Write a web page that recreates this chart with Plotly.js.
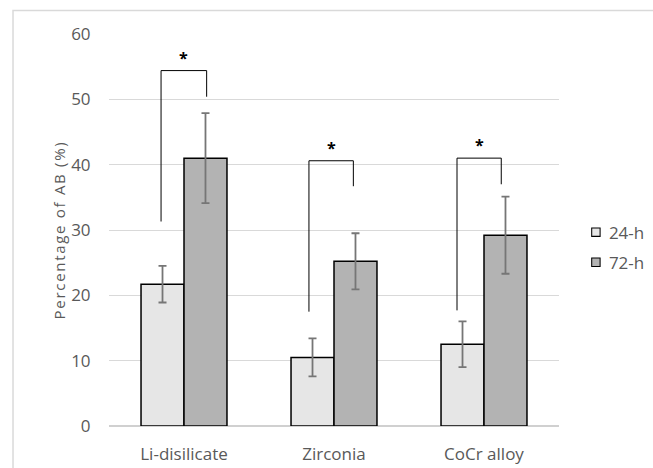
<!DOCTYPE html>
<html>
<head>
<meta charset="utf-8">
<script src="https://cdn.plot.ly/plotly-3.0.1.min.js"></script>
<style>
html,body{margin:0;padding:0;background:#fff;}
#chart{width:653px;height:468px;}
#chart .ytitle{letter-spacing:1.7px;}
#chart .legendpoints path{transform-origin:0 0;transform:translate(27px,0px) scale(0.7);}
</style>
</head>
<body>
<div id="chart"></div>
<script>
// Data
const categories = ["Li-disilicate", "Zirconia", "CoCr alloy"];
const seriesNames = ["24-h", "72-h"];
const values24h = [21.7, 10.5, 12.5];
const errors24h = [2.8, 2.9, 3.5];
const values72h = [41.0, 25.2, 29.2];
const errors72h = [6.9, 4.3, 5.9];
const yTicks = [0, 10, 20, 30, 40, 50, 60];

// Significance brackets (category index positions, y values)
const bracketLeftX = [-0.153, 0.833, 1.82];
const bracketRightX = [0.151, 1.129, 2.115];
const bracketLeftBottom = [31.3, 17.5, 17.7];
const bracketTop = [54.4, 40.6, 41.0];
const bracketRightBottom = [50.4, 36.7, 37.0];
const bracketLabel = ["*", "*", "*"];

const textColor = "#595959";
const fontFamily = "'Open Sans', sans-serif";

const traces = [
  {
    type: "bar", name: seriesNames[0], x: categories, y: values24h,
    marker: {color: "#e6e6e6", line: {color: "#000000", width: 1.5}},
    error_y: {type: "data", array: errors24h, visible: true, color: "#767676", thickness: 1.8, width: 4},
    legendgroup: "a"
  },
  {
    type: "bar", name: seriesNames[1], x: categories, y: values72h,
    marker: {color: "#b3b3b3", line: {color: "#000000", width: 1.5}},
    error_y: {type: "data", array: errors72h, visible: true, color: "#767676", thickness: 1.8, width: 4},
    legendgroup: "b"
  }
];

const shapes = [];
const annotations = [];
for (let i = 0; i < categories.length; i++) {
  shapes.push({
    type: "path", xref: "x", yref: "y",
    path: "M " + bracketLeftX[i] + "," + bracketLeftBottom[i] +
          " L " + bracketLeftX[i] + "," + bracketTop[i] +
          " L " + bracketRightX[i] + "," + bracketTop[i] +
          " L " + bracketRightX[i] + "," + bracketRightBottom[i],
    line: {color: "#000000", width: 1}
  });
  annotations.push({
    xref: "x", yref: "y", x: (bracketLeftX[i] + bracketRightX[i]) / 2, y: bracketTop[i],
    yanchor: "bottom", text: "<b>" + bracketLabel[i] + "</b>", showarrow: false, yshift: 0,
    font: {family: fontFamily, size: 16, color: "#000000"}
  });
}
// chart frame
shapes.push({
  type: "rect", xref: "paper", yref: "paper",
  x0: -0.2133, x1: 1.25, y0: -0.2, y1: 1.0599,
  line: {color: "#d9d9d9", width: 1.5}, fillcolor: "rgba(0,0,0,0)", layer: "below"
});

const layout = {
  width: 653, height: 468,
  margin: {l: 109, r: 94, t: 33.5, b: 42, pad: 0, autoexpand: false},
  paper_bgcolor: "#ffffff", plot_bgcolor: "#ffffff",
  font: {family: fontFamily, size: 17, color: textColor},
  barmode: "group", bargap: 0.427, bargroupgap: 0,
  showlegend: true,
  legend: {
    x: 1.022, xanchor: "left", y: 0.455, yanchor: "middle",
    font: {family: fontFamily, size: 17, color: textColor},
    traceorder: "grouped", tracegroupgap: 5, bgcolor: "rgba(0,0,0,0)"
  },
  xaxis: {
    type: "category", showgrid: false, showline: false, zeroline: false,
    ticks: "outside", ticklen: 13, tickcolor: "rgba(0,0,0,0)",
    tickfont: {family: fontFamily, size: 17, color: textColor},
    fixedrange: true
  },
  yaxis: {
    range: [0, 60], tickvals: yTicks, ticktext: yTicks.map(String),
    showgrid: true, gridcolor: "#d9d9d9", gridwidth: 1,
    zeroline: true, zerolinecolor: "#d0d0d0", zerolinewidth: 1.5,
    showline: false,
    ticks: "outside", ticklen: 14, tickcolor: "rgba(0,0,0,0)",
    tickfont: {family: fontFamily, size: 17, color: textColor},
    title: {text: "Percentage of AB (%)", font: {family: fontFamily, size: 15, color: textColor}, standoff: 1},
    fixedrange: true
  },
  shapes: shapes,
  annotations: annotations
};

Plotly.newPlot("chart", traces, layout, {displayModeBar: false, staticPlot: true});
</script>
</body>
</html>
